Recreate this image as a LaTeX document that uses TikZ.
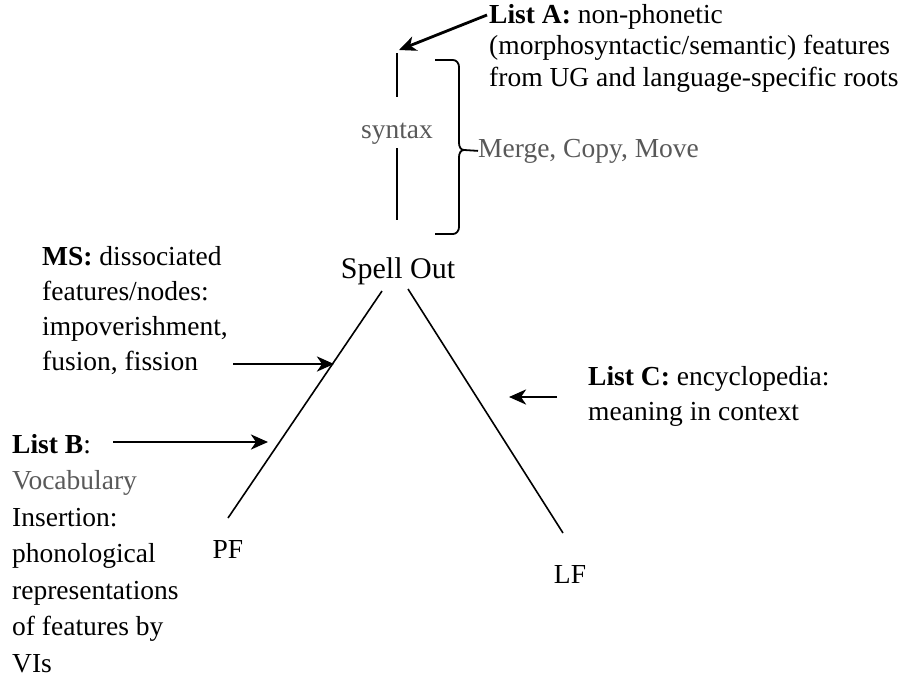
\documentclass[tikz,border=0pt]{standalone}
\usepackage{fontspec}
\setmainfont{Liberation Serif}
\usetikzlibrary{arrows.meta}
\begin{document}
\begin{tikzpicture}[x=1pt,y=-1pt,
  txt/.style={font=\fontsize{27.5}{28}\selectfont, inner sep=0pt, align=left, anchor=north west},
  lbl/.style={font=\fontsize{27.5}{28}\selectfont, inner sep=0pt, anchor=base},
  arr/.style={line width=2.8pt, -{Stealth[length=17pt,width=15pt,inset=5pt]}},
  leg/.style={line width=1.6pt},
  vline/.style={line width=2.4pt},
  brk/.style={line width=1.8pt},
  soft/.style={text=black!65}]
\useasboundingbox (0,0) rectangle (917,678);

% labels
\node[lbl, font=\fontsize{30}{30}\selectfont] (spell) at (398,278) {Spell Out};
\node[lbl] (pf) at (228,558) {PF};
\node[lbl] (lf) at (570,583) {LF};
\node[lbl,soft] (syn) at (397,138) {syntax};
\node[lbl,soft,anchor=base west] (merge) at (478,157) {Merge, Copy, Move};

% syntax vertical line
\coordinate (s1) at (397,53);
\coordinate (s2) at (397,97);
\coordinate (s3) at (397,148);
\coordinate (s4) at (397,220);
\draw[vline] (s1) -- (s2);
\draw[vline] (s3) -- (s4);

% bracket
\coordinate (b1) at (435,60);
\coordinate (btip) at (464,150);
\coordinate (b2) at (435,234);
\draw[brk] (b1) -- (453,60) to[out=0,in=90] (459,67) -- (459,143)
  to[out=-90,in=180] (btip) to[out=180,in=90] (459,157) -- (459,227)
  to[out=-90,in=0] (453,234) -- (b2);
\draw[brk] (btip) -- (merge.west);

% triangle legs
\coordinate (lt) at (382,291);
\coordinate (lb) at (228,518);
\coordinate (rt) at (408,289);
\coordinate (rb) at (563,533);
\draw[leg] (lt) -- (lb);
\draw[leg] (rt) -- (rb);

% text blocks
\node[txt, font=\fontsize{27.5}{31.5}\selectfont] (la) at (489,4)
  {\textbf{List A:} non-phonetic\\(morphosyntactic/semantic) features\\from UG and language-specific roots};
\node[txt, font=\fontsize{27.5}{35}\selectfont] (ms) at (42,246)
  {\textbf{MS:} dissociated\\features/nodes:\\impoverishment,\\fusion, fission};
\node[txt, font=\fontsize{27.5}{36.5}\selectfont] (lb2) at (12,434)
  {\textbf{List B}:\\\textcolor{black!65}{Vocabulary}\\Insertion:\\phonological\\representations\\of features by\\VIs};
\node[txt, font=\fontsize{27.5}{35}\selectfont] (lc) at (588,366)
  {\textbf{List C:} encyclopedia:\\meaning in context};

% arrows
\coordinate (aA1) at (487,15);
\coordinate (aA2) at (399,50);
\coordinate (aM1) at (233,364);
\coordinate (aM2) at (334,364);
\coordinate (aB1) at (113,442);
\coordinate (aB2) at (268,442);
\coordinate (aC1) at (557,397);
\coordinate (aC2) at (509,397);
\draw[arr] (aA1) -- (aA2);
\draw[arr] (aM1) -- (aM2);
\draw[arr] (aB1) -- (aB2);
\draw[arr] (aC1) -- (aC2);
\end{tikzpicture}
\end{document}
